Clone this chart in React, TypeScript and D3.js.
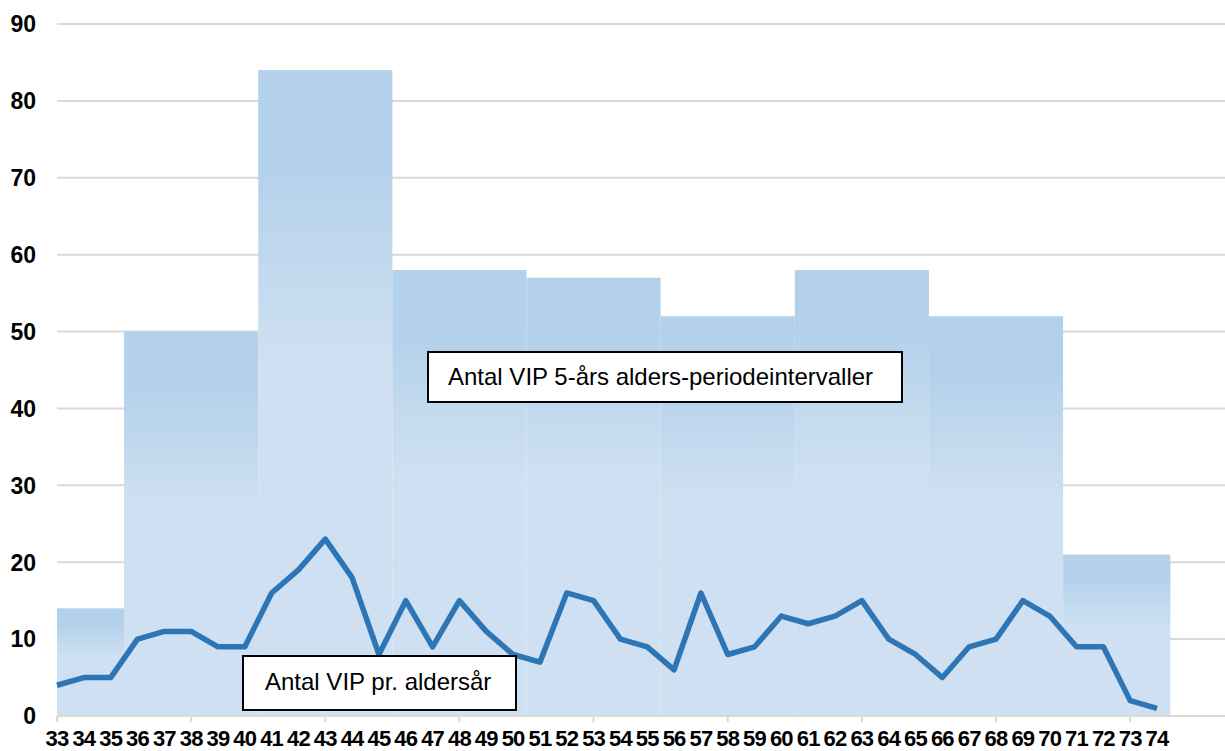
import * as React from "react";
import * as d3 from "d3";

// age categories on the x axis
const ages: number[] = d3.range(33, 75);

// count per single age year (line)
const perYear: number[] = [
  4, 5, 5, 10, 11, 11, 9, 9, 16, 19, 23, 18, 8, 15, 9, 15, 11, 8, 7, 16, 15,
  10, 9, 6, 16, 8, 9, 13, 12, 13, 15, 10, 8, 5, 9, 10, 15, 13, 9, 9, 2, 1,
];

// 5-year interval bars
const bandStart: number[] = [33, 36, 41, 46, 51, 56, 61, 66, 71];
const bandEnd: number[] = [35, 40, 45, 50, 55, 60, 65, 70, 74];
const bandValues: number[] = [14, 50, 84, 58, 57, 52, 58, 52, 21];

const yTicks: number[] = [0, 10, 20, 30, 40, 50, 60, 70, 80, 90];

const barLabel = "Antal VIP 5-års alders-periodeintervaller";
const lineLabel = "Antal VIP pr. aldersår";

const W = 1225;
const H = 751;
const FONT = "Arial, 'Liberation Sans', sans-serif";

export default function App() {
  const x = d3.scaleLinear().domain([33, 74]).range([57, 1157]);
  const y = d3.scaleLinear().domain([0, 90]).range([716, 24]);
  const left = x(33);

  const line = d3
    .line<number>()
    .x((_, i) => x(ages[i]))
    .y((d) => y(d));

  return (
    <svg
      width={W}
      height={H}
      style={{ position: "absolute", left: 0, top: 0, background: "#fff" }}
    >
      <defs>
        <linearGradient id="barGrad" x1="0" y1="0" x2="0" y2="1">
          <stop offset="0" stopColor="#b3d1eb" />
          <stop offset="0.15" stopColor="#b4d1eb" />
          <stop offset="0.45" stopColor="#cee0f1" />
          <stop offset="1" stopColor="#cee0f1" />
        </linearGradient>
      </defs>

      {/* gridlines */}
      {yTicks.slice(1).map((t) => (
        <line key={t} x1={left} x2={W} y1={y(t)} y2={y(t)} stroke="#d9d9d9" strokeWidth={2} />
      ))}

      {/* y labels */}
      {yTicks.map((t) => (
        <text
          key={t}
          x={36}
          y={y(t)}
          dy="0.36em"
          textAnchor="end"
          fontFamily={FONT}
          fontWeight="bold"
          fontSize={23}
          fill="#000"
        >
          {t}
        </text>
      ))}

      {/* interval bars */}
      {bandValues.map((v, i) => {
        const x0 = Math.max(left, x(bandStart[i] - 0.5));
        const x1 = x(bandEnd[i] + 0.5);
        return (
          <rect
            key={i}
            x={x0}
            y={y(v)}
            width={x1 - x0}
            height={y(0) - y(v)}
            fill="url(#barGrad)"
          />
        );
      })}

      {/* x axis */}
      <line x1={left} x2={W} y1={y(0)} y2={y(0)} stroke="#d9d9d9" strokeWidth={2} />
      {ages
        .filter((a) => (a - 33) % 5 === 0)
        .map((a) => (
          <line key={a} x1={x(a)} x2={x(a)} y1={y(0)} y2={y(0) + 6} stroke="#d9d9d9" strokeWidth={2} />
        ))}
      {ages.map((a) => (
        <text
          key={a}
          x={x(a)}
          y={746}
          textAnchor="middle"
          fontFamily={FONT}
          fontWeight="bold"
          fontSize={22}
          letterSpacing={-0.8}
          fill="#000"
        >
          {a}
        </text>
      ))}

      {/* per-year line */}
      <path d={line(perYear) || ""} fill="none" stroke="#2e75b6" strokeWidth={5.5} strokeLinejoin="round" />

      {/* annotation boxes */}
      <rect x={428} y={352} width={474} height={50} fill="#fff" stroke="#000" strokeWidth={2} />
      <text x={448} y={385} fontFamily={FONT} fontSize={24} fill="#000">
        {barLabel}
      </text>
      <rect x={243} y={656} width={273} height={54} fill="#fff" stroke="#000" strokeWidth={2} />
      <text x={265} y={690} fontFamily={FONT} fontSize={24} fill="#000">
        {lineLabel}
      </text>
    </svg>
  );
}
